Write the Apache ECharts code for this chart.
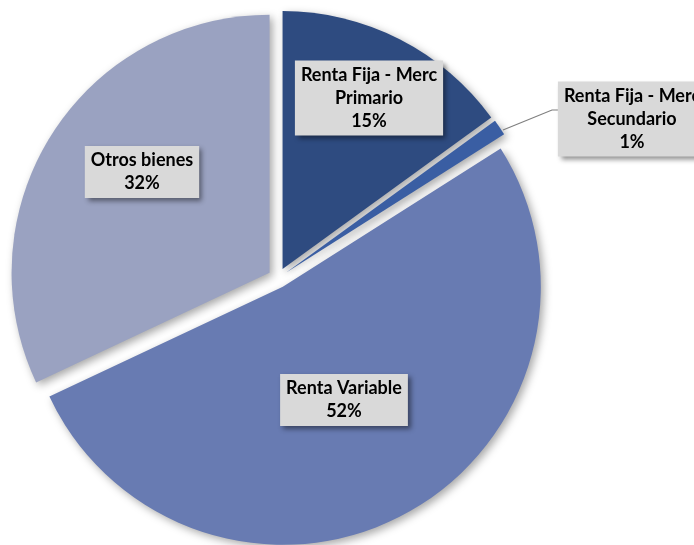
<!DOCTYPE html>
<html>
<head>
<meta charset="utf-8">
<script src="https://cdn.jsdelivr.net/npm/echarts@6/dist/echarts.min.js"></script>
<style>html,body{margin:0;padding:0;background:#fff;}#chart{width:694px;height:545px;}</style>
</head>
<body>
<div id="chart"></div>
<script>
var categories = ['Renta Fija - Merc Primario', 'Renta Fija - Merc Secundario', 'Renta Variable', 'Otros bienes'];
var labelTexts = ['Renta Fija - Merc\nPrimario', 'Renta Fija - Merc\nSecundario', 'Renta Variable', 'Otros bienes'];
var values = [15, 1, 52, 32];
var colors = ['#2E4B80', '#3A5EA3', '#687BB2', '#9AA2C1'];

// label layout (centres of the label boxes, in pixels)
var labelCenters = [[369, 98], [632, 119], [344, 400], [142, 172]];

var chart = echarts.init(document.getElementById('chart'), null, {renderer: 'canvas'});

var sliceData = values.map(function (v, i) {
  return {name: categories[i], value: v, selected: true, itemStyle: {color: colors[i]}};
});
var labelData = values.map(function (v, i) {
  return {
    name: categories[i],
    value: v,
    label: {position: i === 1 ? 'outside' : 'inside'},
    labelLine: {show: i === 1}
  };
});

chart.setOption({
  animation: false,
  series: [{
    type: 'pie',
    center: [278, 278],
    radius: [0, 258],
    startAngle: 90,
    clockwise: true,
    selectedMode: 'multiple',
    selectedOffset: 10,
    data: sliceData,
    label: {show: false},
    labelLine: {show: false},
    itemStyle: {
      shadowBlur: 8,
      shadowOffsetX: 3,
      shadowOffsetY: 3,
      shadowColor: 'rgba(0,0,0,0.35)'
    },
    emphasis: {disabled: true}
  }, {
    type: 'pie',
    z: 5,
    silent: true,
    center: [278, 278],
    radius: [0, 258],
    startAngle: 90,
    clockwise: true,
    selectedMode: false,
    avoidLabelOverlap: false,
    data: labelData,
    itemStyle: {color: 'rgba(0,0,0,0)', borderWidth: 0},
    label: {
      show: true,
      formatter: function (p) { return labelTexts[p.dataIndex] + '\n' + Math.round(p.percent) + '%'; },
      color: '#000',
      fontFamily: 'Lato',
      fontWeight: 'bold',
      fontSize: 18,
      lineHeight: 23,
      align: 'center',
      backgroundColor: '#D9D9D9',
      padding: [3, 6],
      shadowBlur: 5,
      shadowOffsetX: 3,
      shadowOffsetY: 3,
      shadowColor: 'rgba(0,0,0,0.45)'
    },
    labelLine: {
      lineStyle: {color: '#7F7F7F', width: 1.2},
      length: 20,
      length2: 10
    },
    emphasis: {disabled: true},
    labelLayout: function (p) {
      var c = labelCenters[p.dataIndex];
      var res = {x: c[0], y: c[1], align: 'center', verticalAlign: 'middle'};
      if (p.dataIndex === 1) {
        var halfW = p.labelRect.width / 2;
        res.labelLinePoints = [[503, 130], [552, 110], [c[0] - halfW, 110]];
      }
      return res;
    }
  }]
});
</script>
</body>
</html>
